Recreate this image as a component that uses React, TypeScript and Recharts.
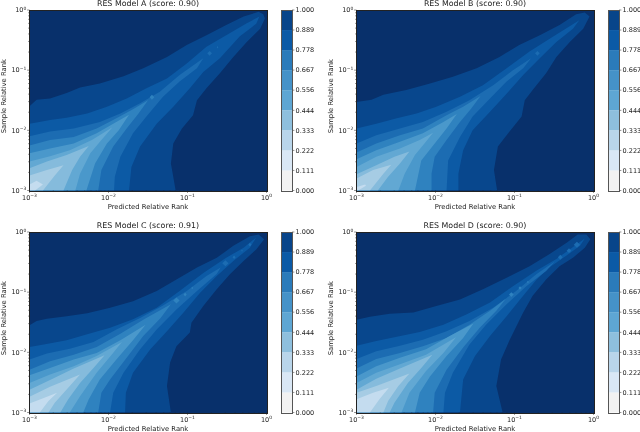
import { ComposedChart, BarChart, Bar, Scatter, XAxis, YAxis, Polygon } from 'recharts';

type Pt = [number, number];
type Island = [number, Pt[]];

// contour regions, outermost first; each point is [log10 predicted, log10 sample]
const modelA: Pt[][] = [
  [[-3,-1.60],[-2.91,-1.49],[-2.74,-1.47],[-2.53,-1.38],[-2.36,-1.29],[-2.11,-1.22],[-1.81,-1.10],[-1.56,-.97],[-1.26,-.78],[-1.01,-.58],[-.76,-.42],[-.51,-.25],[-.29,-.11],[-.10,-.03],[-.04,-.07],[-.02,-.14],[-.08,-.31],[-.25,-.53],[-.42,-.78],[-.59,-1.05],[-.76,-1.30],[-.88,-1.50],[-.93,-1.75],[-1.07,-1.97],[-1.18,-2.22],[-1.21,-2.55],[-1.18,-2.77],[-1.15,-3]],
  [[-3,-1.89],[-2.91,-1.87],[-2.74,-1.83],[-2.53,-1.79],[-2.27,-1.72],[-2.02,-1.61],[-1.77,-1.47],[-1.52,-1.30],[-1.26,-1.14],[-1.01,-.89],[-.76,-.61],[-.51,-.42],[-.25,-.22],[-.09,-.11],[-.13,-.23],[-.34,-.44],[-.59,-.80],[-.80,-1.03],[-.97,-1.30],[-1.18,-1.61],[-1.39,-1.89],[-1.60,-2.27],[-1.71,-2.61],[-1.74,-3]],
  [[-3,-2.10],[-2.74,-2.02],[-2.44,-1.97],[-2.11,-1.86],[-1.85,-1.72],[-1.60,-1.55],[-1.35,-1.36],[-1.10,-1.08],[-.80,-.80],[-.88,-.97],[-1.10,-1.19],[-1.31,-1.44],[-1.52,-1.77],[-1.69,-2.05],[-1.85,-2.44],[-1.92,-2.77],[-1.93,-3]],
  [[-3,-2.25],[-2.74,-2.16],[-2.44,-2.11],[-2.15,-1.97],[-1.90,-1.80],[-1.69,-1.65],[-1.50,-1.50],[-1.62,-1.72],[-1.77,-1.97],[-1.94,-2.27],[-2.09,-2.66],[-2.13,-3]],
  [[-3,-2.38],[-2.74,-2.30],[-2.44,-2.22],[-2.15,-2.05],[-1.94,-1.89],[-1.74,-1.74],[-1.87,-2.0],[-2.02,-2.22],[-2.17,-2.55],[-2.28,-3]],
  [[-3,-2.52],[-2.74,-2.43],[-2.49,-2.33],[-2.21,-2.16],[-1.95,-1.95],[-2.09,-2.16],[-2.23,-2.38],[-2.36,-2.72],[-2.42,-3]],
  [[-3,-2.63],[-2.78,-2.52],[-2.53,-2.41],[-2.25,-2.26],[-2.36,-2.44],[-2.46,-2.66],[-2.57,-3]],
  [[-3,-2.75],[-2.78,-2.66],[-2.57,-2.58],[-2.68,-2.75],[-2.83,-3]],
  [[-3,-2.90],[-2.91,-2.84],[-2.83,-2.90],[-2.93,-3]],
];
const islandsA: Island[] = [
  [3, [[-1.48,-1.45],[-1.45,-1.41],[-1.42,-1.45],[-1.45,-1.49]]],
  [2, [[-.75,-.72],[-.72,-.68],[-.69,-.72],[-.72,-.76]]],
  [2, [[-.63,-.62],[-.62,-.60],[-.61,-.62],[-.62,-.64]]],
];

const modelB: Pt[][] = [
  [[-3,-1.53],[-2.81,-1.49],[-2.66,-1.41],[-2.37,-1.33],[-2.07,-1.22],[-1.78,-1.11],[-1.48,-.97],[-1.19,-.78],[-.94,-.58],[-.68,-.42],[-.43,-.25],[-.22,-.07],[-.11,-.04],[-.05,-.11],[-.13,-.31],[-.30,-.53],[-.47,-.78],[-.60,-1.05],[-.77,-1.33],[-.87,-1.50],[-.91,-1.77],[-1.08,-2.05],[-1.21,-2.27],[-1.26,-2.66],[-1.22,-3]],
  [[-3,-1.97],[-2.75,-1.89],[-2.49,-1.80],[-2.24,-1.72],[-1.99,-1.61],[-1.69,-1.44],[-1.40,-1.25],[-1.10,-.97],[-.81,-.69],[-.51,-.44],[-.18,-.17],[-.26,-.31],[-.47,-.53],[-.68,-.80],[-.89,-1.08],[-1.10,-1.39],[-1.31,-1.69],[-1.53,-2.0],[-1.65,-2.33],[-1.71,-2.72],[-1.71,-3]],
  [[-3,-2.22],[-2.75,-2.08],[-2.45,-1.97],[-2.16,-1.86],[-1.86,-1.69],[-1.57,-1.50],[-1.27,-1.25],[-1.02,-1.0],[-.79,-.80],[-.89,-.97],[-1.10,-1.19],[-1.31,-1.47],[-1.53,-1.77],[-1.69,-2.11],[-1.84,-2.50],[-1.86,-3]],
  [[-3,-2.37],[-2.75,-2.22],[-2.45,-2.08],[-2.16,-1.97],[-1.86,-1.75],[-1.65,-1.61],[-1.43,-1.43],[-1.55,-1.64],[-1.69,-1.86],[-1.86,-2.16],[-2.01,-2.44],[-2.05,-2.72],[-2.05,-3]],
  [[-3,-2.48],[-2.75,-2.33],[-2.45,-2.19],[-2.16,-2.05],[-1.90,-1.86],[-1.73,-1.73],[-1.86,-1.97],[-2.01,-2.22],[-2.18,-2.50],[-2.26,-3]],
  [[-3,-2.61],[-2.75,-2.44],[-2.45,-2.30],[-2.20,-2.16],[-2.03,-2.04],[-2.14,-2.22],[-2.26,-2.41],[-2.39,-2.72],[-2.47,-3]],
  [[-3,-2.73],[-2.75,-2.58],[-2.52,-2.44],[-2.33,-2.35],[-2.45,-2.55],[-2.60,-2.77],[-2.73,-3]],
  [[-3,-2.80],[-2.79,-2.66],[-2.56,-2.57],[-2.66,-2.72],[-2.83,-3]],
  [[-3,-2.94],[-2.89,-2.90],[-2.88,-2.92],[-2.98,-3]],
];
const islandsB: Island[] = [
  [2, [[-.74,-.72],[-.71,-.68],[-.68,-.72],[-.71,-.76]]],
];

const modelC: Pt[][] = [
  [[-3,-1.55],[-2.91,-1.48],[-2.78,-1.44],[-2.53,-1.40],[-2.27,-1.35],[-1.98,-1.26],[-1.69,-1.15],[-1.39,-.98],[-1.14,-.79],[-.88,-.59],[-.63,-.43],[-.42,-.23],[-.21,-.07],[-.10,-.04],[-.03,-.12],[-.13,-.29],[-.29,-.48],[-.46,-.70],[-.63,-.95],[-.80,-1.23],[-.95,-1.51],[-.97,-1.67],[-1.14,-1.90],[-1.22,-2.17],[-1.26,-2.56],[-1.21,-3]],
  [[-3,-1.91],[-2.82,-1.87],[-2.53,-1.80],[-2.27,-1.70],[-1.98,-1.59],[-1.69,-1.45],[-1.39,-1.26],[-1.10,-.98],[-.80,-.68],[-.51,-.43],[-.29,-.26],[-.13,-.09],[-.21,-.26],[-.42,-.48],[-.63,-.73],[-.84,-1.01],[-1.05,-1.34],[-1.26,-1.65],[-1.47,-1.95],[-1.69,-2.34],[-1.78,-2.67],[-1.79,-3]],
  [[-3,-2.12],[-2.78,-2.02],[-2.49,-1.94],[-2.19,-1.83],[-1.90,-1.62],[-1.60,-1.43],[-1.31,-1.22],[-1.01,-.98],[-.76,-.73],[-.58,-.59],[-.63,-.70],[-.88,-.98],[-1.14,-1.29],[-1.39,-1.62],[-1.60,-1.95],[-1.81,-2.34],[-1.94,-2.67],[-1.98,-3]],
  [[-3,-2.29],[-2.74,-2.15],[-2.44,-2.04],[-2.15,-1.91],[-1.85,-1.69],[-1.55,-1.45],[-1.21,-1.20],[-1.34,-1.43],[-1.56,-1.73],[-1.77,-2.09],[-1.98,-2.45],[-2.09,-2.67],[-2.13,-3]],
  [[-3,-2.38],[-2.74,-2.26],[-2.44,-2.12],[-2.15,-2.01],[-1.85,-1.80],[-1.53,-1.54],[-1.69,-1.80],[-1.90,-2.12],[-2.11,-2.45],[-2.25,-2.78],[-2.32,-3]],
  [[-3,-2.51],[-2.74,-2.37],[-2.44,-2.23],[-2.15,-2.06],[-1.83,-1.83],[-1.96,-2.04],[-2.15,-2.34],[-2.36,-2.73],[-2.49,-3]],
  [[-3,-2.62],[-2.74,-2.46],[-2.44,-2.27],[-2.05,-2.05],[-2.19,-2.26],[-2.36,-2.51],[-2.51,-2.78],[-2.61,-3]],
  [[-3,-2.74],[-2.74,-2.57],[-2.36,-2.37],[-2.51,-2.59],[-2.68,-2.84],[-2.76,-3]],
  [[-3,-2.85],[-2.82,-2.76],[-2.65,-2.67],[-2.76,-2.81],[-2.87,-3]],
];
const islandsC: Island[] = [
  [3, [[-1.18,-1.14],[-1.14,-1.09],[-1.10,-1.14],[-1.14,-1.19]]],
  [3, [[-1.05,-1.04],[-1.03,-1.01],[-1.01,-1.04],[-1.03,-1.07]]],
  [3, [[-.95,-.93],[-.94,-.91],[-.93,-.93],[-.94,-.95]]],
  [2, [[-.56,-.52],[-.52,-.47],[-.48,-.52],[-.52,-.57]]],
  [2, [[-.43,-.42],[-.41,-.39],[-.39,-.42],[-.41,-.45]]],
  [2, [[-.32,-.31],[-.31,-.29],[-.30,-.31],[-.31,-.33]]],
  [2, [[-.23,-.21],[-.21,-.18],[-.19,-.21],[-.21,-.24]]],
];

const modelD: Pt[][] = [
  [[-3,-1.46],[-2.83,-1.41],[-2.58,-1.36],[-2.28,-1.34],[-1.99,-1.23],[-1.69,-1.12],[-1.40,-.95],[-1.10,-.76],[-.81,-.57],[-.56,-.37],[-.34,-.18],[-.20,-.04],[-.09,-.04],[-.04,-.12],[-.11,-.26],[-.26,-.43],[-.43,-.57],[-.60,-.79],[-.77,-1.06],[-.89,-1.34],[-1.06,-1.79],[-1.17,-2.12],[-1.23,-2.56],[-1.15,-3]],
  [[-3,-1.89],[-2.75,-1.81],[-2.49,-1.74],[-2.20,-1.66],[-1.90,-1.54],[-1.61,-1.37],[-1.31,-1.17],[-1.02,-.90],[-.72,-.64],[-.47,-.45],[-.22,-.21],[-.11,-.11],[-.17,-.23],[-.35,-.40],[-.56,-.59],[-.72,-.79],[-.89,-1.06],[-1.10,-1.40],[-1.31,-1.73],[-1.50,-2.06],[-1.65,-2.45],[-1.69,-3]],
  [[-3,-2.11],[-2.75,-1.98],[-2.45,-1.89],[-2.16,-1.79],[-1.86,-1.65],[-1.57,-1.48],[-1.27,-1.26],[-.98,-.98],[-.72,-.70],[-.49,-.49],[-.60,-.65],[-.85,-.90],[-1.10,-1.20],[-1.36,-1.54],[-1.57,-1.87],[-1.78,-2.34],[-1.88,-2.67],[-1.90,-3]],
  [[-3,-2.27],[-2.75,-2.11],[-2.45,-2.01],[-2.16,-1.90],[-1.86,-1.76],[-1.57,-1.54],[-1.31,-1.31],[-1.11,-1.11],[-1.23,-1.31],[-1.44,-1.59],[-1.65,-1.92],[-1.86,-2.29],[-2.01,-2.67],[-2.03,-3]],
  [[-3,-2.40],[-2.75,-2.23],[-2.45,-2.09],[-2.12,-1.95],[-1.82,-1.73],[-1.52,-1.52],[-1.65,-1.76],[-1.86,-2.06],[-2.07,-2.40],[-2.20,-2.67],[-2.26,-3]],
  [[-3,-2.51],[-2.75,-2.34],[-2.45,-2.20],[-2.12,-2.04],[-1.74,-1.75],[-1.90,-2.01],[-2.12,-2.31],[-2.33,-2.67],[-2.43,-3]],
  [[-3,-2.62],[-2.75,-2.44],[-2.45,-2.27],[-2.04,-2.04],[-2.18,-2.26],[-2.35,-2.51],[-2.52,-2.84],[-2.58,-3]],
  [[-3,-2.67],[-2.75,-2.56],[-2.33,-2.35],[-2.47,-2.56],[-2.60,-2.81],[-2.66,-3]],
  [[-3,-2.78],[-2.79,-2.67],[-2.59,-2.59],[-2.71,-2.78],[-2.83,-3]],
];
const islandsD: Island[] = [
  [3, [[-1.07,-1.04],[-1.04,-1.00],[-1.01,-1.04],[-1.04,-1.08]]],
  [3, [[-.95,-.93],[-.93,-.90],[-.91,-.93],[-.93,-.96]]],
  [3, [[-.84,-.83],[-.83,-.81],[-.82,-.83],[-.83,-.85]]],
  [2, [[-.45,-.42],[-.42,-.38],[-.39,-.42],[-.42,-.46]]],
  [2, [[-.34,-.31],[-.31,-.27],[-.28,-.31],[-.31,-.35]]],
  [2, [[-.25,-.21],[-.21,-.16],[-.17,-.21],[-.21,-.26]]],
];

const bgColor = '#08306b';
const levelColors = ['#08478d', '#0c5aa5', '#1c6cb2', '#2f82bf', '#4a98cb', '#62a8d3', '#85bbdc', '#a6cce4', '#c4dcef'];
const cbarColors = ['#f2f2f2', '#d9e7f5', '#b9d5ea', '#8ebfdd', '#5ea6d3', '#4592c8', '#2b7bba', '#0b5aa6', '#08458a'];
const cbarBands = [0.111, 0.111, 0.111, 0.111, 0.112, 0.111, 0.111, 0.111, 0.111];
const cbarTicks = [0, 0.111, 0.222, 0.333, 0.444, 0.556, 0.667, 0.778, 0.889, 1];

const majorTicks = [0.001, 0.01, 0.1, 1];
const minorTicks = [
  0.002, 0.003, 0.004, 0.005, 0.006, 0.007, 0.008, 0.009,
  0.02, 0.03, 0.04, 0.05, 0.06, 0.07, 0.08, 0.09,
  0.2, 0.3, 0.4, 0.5, 0.6, 0.7, 0.8, 0.9,
];
const tickExp: Record<number, string> = { 0.001: '\u22123', 0.01: '\u22122', 0.1: '\u22121', 1: '0' };

const FONT = 'DejaVu Sans';
const AXIS_LEFT = 29.5;
const AXIS_BOTTOM = 26;
const AXIS_RIGHT = 12;
const PLOT_W = 237;
const PLOT_H = 180.5;
const TOP = 10;

function XTick({ x, y, payload }: any) {
  const major = majorTicks.includes(payload.value);
  return (
    <g>
      <line x1={x} x2={x} y1={y} y2={y + (major ? 2.4 : 1.4)} stroke="#222" strokeWidth={0.5} />
      {major && (
        <text x={x} y={y + 9} textAnchor="middle" fontSize={6.5} fontFamily={FONT} fill="#222">
          10<tspan fontSize={4.5} dy={-2.4}>{tickExp[payload.value]}</tspan>
        </text>
      )}
    </g>
  );
}

function YTick({ x, y, payload }: any) {
  const major = majorTicks.includes(payload.value);
  return (
    <g>
      <line x1={x} x2={x - (major ? 2.4 : 1.4)} y1={y} y2={y} stroke="#222" strokeWidth={0.5} />
      {major && (
        <text x={x - 3.2} y={y + 2.2} textAnchor="end" fontSize={6.5} fontFamily={FONT} fill="#222">
          10<tspan fontSize={4.5} dy={-2.4}>{tickExp[payload.value]}</tspan>
        </text>
      )}
    </g>
  );
}

function CbarTick({ x, y, payload }: any) {
  return (
    <g>
      <line x1={x} x2={x + 2.4} y1={y} y2={y} stroke="#222" strokeWidth={0.5} />
      <text x={x + 3.6} y={y + 2.3} fontSize={6.5} fontFamily={FONT} fill="#222">
        {payload.value.toFixed(3)}
      </text>
    </g>
  );
}

const toRows = (poly: Pt[]) => poly.map(([px, py]) => ({ x: 10 ** px, y: 10 ** py }));

function Panel({ title, regions, islands, left, top }: { title: string; regions: Pt[][]; islands: Island[]; left: number; top: number }) {
  const cbarRow = [Object.fromEntries(cbarBands.map((b, i) => [`b${i}`, b]))];
  return (
    <div style={{ position: 'absolute', left, top, width: 320, height: 216 }}>
      <div
        style={{
          position: 'absolute', left: AXIS_LEFT - 10, width: PLOT_W + 20, top: -0.5, textAlign: 'center',
          fontFamily: FONT, fontSize: 7.9, lineHeight: '8px', color: '#222',
        }}
      >
        {title}
      </div>
      <div style={{ position: 'absolute', left: AXIS_LEFT, top: TOP, width: PLOT_W, height: PLOT_H, background: bgColor }} />
      <div style={{ position: 'absolute', left: 0, top: 0 }}>
        <ComposedChart
          width={AXIS_LEFT + PLOT_W + AXIS_RIGHT}
          height={TOP + PLOT_H + AXIS_BOTTOM}
          margin={{ top: TOP, right: AXIS_RIGHT, bottom: 0, left: 0 }}
        >
          <XAxis
            dataKey="x"
            type="number"
            scale="log"
            domain={[0.001, 1]}
            ticks={[...majorTicks, ...minorTicks]}
            interval={0}
            height={AXIS_BOTTOM}
            axisLine={false}
            tickLine={false}
            tickSize={0}
            tickMargin={0}
            tick={XTick}
            allowDataOverflow
            label={{ value: 'Predicted Relative Rank', position: 'insideBottom', offset: 7.5, fontSize: 6.8, fontFamily: FONT, fill: '#222' }}
          />
          <YAxis
            dataKey="y"
            type="number"
            scale="log"
            domain={[0.001, 1]}
            ticks={[...majorTicks, ...minorTicks]}
            interval={0}
            width={AXIS_LEFT}
            axisLine={false}
            tickLine={false}
            tickSize={0}
            tickMargin={0}
            tick={YTick}
            allowDataOverflow
            label={{ value: 'Sample Relative Rank', angle: -90, position: 'insideLeft', offset: 4, dy: 33, fontSize: 6.8, fontFamily: FONT, fill: '#222' }}
          />
          {regions.map((poly, i) => (
            <Scatter
              key={i}
              data={toRows([...poly, [-3, -3]])}
              isAnimationActive={false}
              shape={() => <g />}
              line={(p: any) => <Polygon points={p.points} fill={levelColors[i]} stroke="none" />}
            />
          ))}
          {islands.map(([level, poly], i) => (
            <Scatter
              key={`island-${i}`}
              data={toRows(poly)}
              isAnimationActive={false}
              shape={() => <g />}
              line={(p: any) => <Polygon points={p.points} fill={levelColors[level]} stroke="none" />}
            />
          ))}
        </ComposedChart>
      </div>
      <div
        style={{
          position: 'absolute', left: AXIS_LEFT - 0.5, top: TOP - 0.5, width: PLOT_W, height: PLOT_H,
          border: '1px solid #222', pointerEvents: 'none',
        }}
      />
      <div style={{ position: 'absolute', left: 281.5, top: 0 }}>
        <BarChart
          width={50}
          height={TOP + PLOT_H + 6}
          data={cbarRow}
          barCategoryGap={0}
          margin={{ top: TOP, right: 0, bottom: 6, left: 0 }}
        >
          <XAxis hide />
          <YAxis
            orientation="right"
            type="number"
            domain={[0, 1]}
            ticks={cbarTicks}
            interval={0}
            width={40}
            axisLine={false}
            tickLine={false}
            tickSize={0}
            tickMargin={0}
            tick={CbarTick}
          />
          {cbarBands.map((_, i) => (
            <Bar key={i} dataKey={`b${i}`} stackId="c" fill={cbarColors[i]} isAnimationActive={false} />
          ))}
        </BarChart>
      </div>
      <div
        style={{
          position: 'absolute', left: 281, top: TOP - 0.5, width: 10, height: PLOT_H,
          border: '1px solid #555', pointerEvents: 'none',
        }}
      />
    </div>
  );
}

export default function App() {
  return (
    <div style={{ position: 'fixed', left: 0, top: 0, width: 640, height: 432, overflow: 'hidden', background: '#fff', filter: 'blur(0.35px)' }}>
      <Panel title="RES Model A (score: 0.90)" regions={modelA} islands={islandsA} left={0} top={0} />
      <Panel title="RES Model B (score: 0.90)" regions={modelB} islands={islandsB} left={327} top={0} />
      <Panel title="RES Model C (score: 0.91)" regions={modelC} islands={islandsC} left={0} top={222} />
      <Panel title="RES Model D (score: 0.90)" regions={modelD} islands={islandsD} left={327} top={222} />
    </div>
  );
}
